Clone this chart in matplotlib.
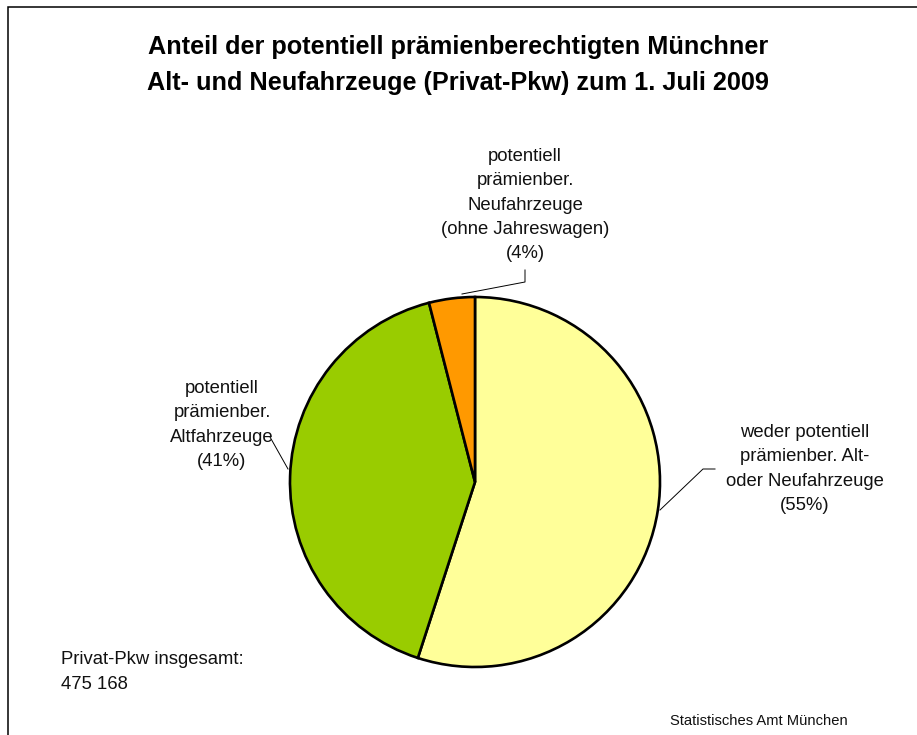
import matplotlib
matplotlib.use("Agg")
import matplotlib.pyplot as plt
from matplotlib.patches import Rectangle

plt.rcParams['font.family'] = ['Liberation Sans', 'DejaVu Sans']

categories = ["weder potentiell\nprämienber. Alt-\noder Neufahrzeuge",
              "potentiell\nprämienber.\nAltfahrzeuge",
              "potentiell\nprämienber.\nNeufahrzeuge\n(ohne Jahreswagen)"]
values = [55, 41, 4]
colors = ["#FFFF99", "#99CC00", "#FF9900"]
title = "Anteil der potentiell prämienberechtigten Münchner\nAlt- und Neufahrzeuge (Privat-Pkw) zum 1. Juli 2009"
total_text = "Privat-Pkw insgesamt:\n475 168"
source = "Statistisches Amt München"

W, H = 917, 735
fig = plt.figure(figsize=(W / 100, H / 100), dpi=100)
ax = fig.add_axes([0, 0, 1, 1])

def Y(y):
    return H - y

ax.pie(values, colors=colors, startangle=90, counterclock=False,
       center=(475, Y(482)), radius=185,
       wedgeprops=dict(edgecolor='black', linewidth=1.9), frame=True)
ax.set_xlim(0, W)
ax.set_ylim(0, H)
ax.set_aspect('equal')
ax.axis('off')

# frame
ax.add_patch(Rectangle((8, Y(7) - 800), 1000, 800, fill=False, ec='black', lw=1.1))

ax.text(458, Y(65), title, ha='center', va='center', fontsize=18.2,
        fontweight='bold', linespacing=1.66)

lab_fs = 13.3
ls = 1.56
tc = '#111111'
ax.text(805, Y(469), f"{categories[0]}\n({values[0]}%)", ha='center', va='center',
        fontsize=lab_fs, linespacing=ls, color=tc)
ax.text(222, Y(425), f"{categories[1]}\n({values[1]}%)", ha='center', va='center',
        fontsize=lab_fs, linespacing=ls, color=tc)
ax.text(525, Y(205), f"{categories[2]}\n({values[2]}%)", ha='center', va='center',
        fontsize=lab_fs, linespacing=ls, color=tc)

# leader lines
ax.plot([660, 703, 715], [Y(510), Y(469), Y(469)], color='black', lw=0.7)
ax.plot([288, 270], [Y(469), Y(437)], color='black', lw=0.7)
ax.plot([462, 525, 525], [Y(294), Y(282), Y(270)], color='black', lw=0.7)

ax.text(61, Y(672), total_text, ha='left', va='center', fontsize=lab_fs,
        linespacing=ls, color=tc)
ax.text(848, Y(721), source, ha='right', va='center', fontsize=10.6, color=tc)

fig.savefig("out.png", dpi=100)
